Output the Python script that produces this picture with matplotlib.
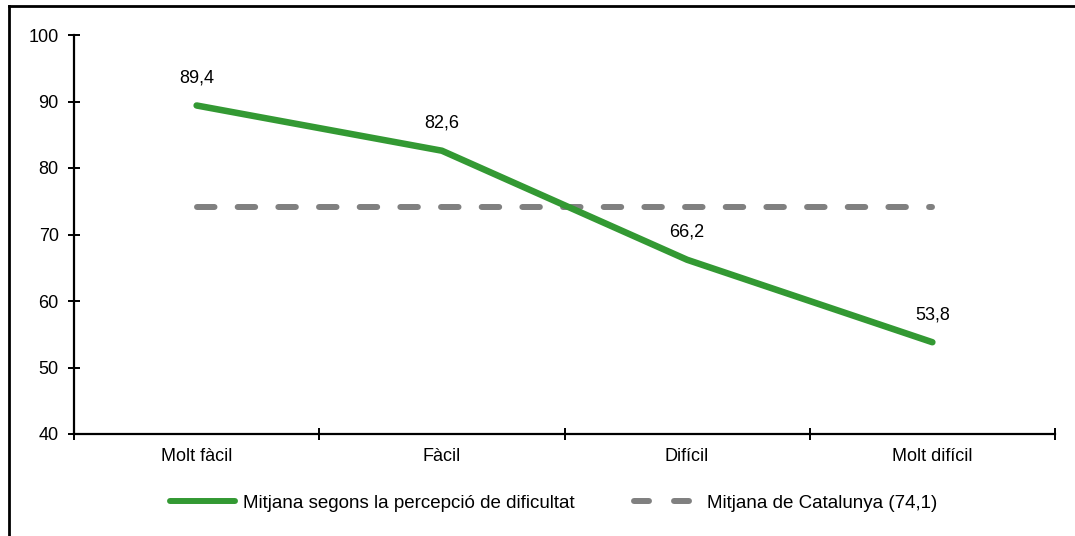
import matplotlib.pyplot as plt
from matplotlib.lines import Line2D

categories = ['Molt fàcil', 'Fàcil', 'Difícil', 'Molt difícil']
mitjana = [89.4, 82.6, 66.2, 53.8]
catalunya = 74.1
labels_mitjana = ['89,4', '82,6', '66,2', '53,8']
legend_labels = ['Mitjana segons la percepció de dificultat', 'Mitjana de Catalunya (74,1)']

GREEN = '#339933'
GREY = '#808080'
FS = 13
LFS = 13.5

plt.rcParams['font.family'] = ['Liberation Sans', 'DejaVu Sans']

W, H = 1075, 536
fig = plt.figure(figsize=(W / 100, H / 100), dpi=100)
ax = fig.add_axes([74 / W, 1 - 434 / H, (1055 - 74) / W, (434 - 35) / H])

x = list(range(len(categories)))
ax.plot(x, [catalunya] * len(x), color=GREY, lw=4.3, dashes=(2.93, 3.88),
        dash_capstyle='round', zorder=2)
ax.plot(x, mitjana, color=GREEN, lw=4.7, solid_capstyle='round',
        solid_joinstyle='round', zorder=3)

for xi, v, lab in zip(x, mitjana, labels_mitjana):
    ax.annotate(lab, (xi, v), xytext=(0, 16.5), textcoords='offset points',
                ha='center', va='baseline', fontsize=FS)

ax.set_xlim(-0.5, len(categories) - 0.5)
ax.set_ylim(40, 100)
ax.set_yticks(range(40, 101, 10))
ax.set_xticks([i - 0.5 for i in range(len(categories) + 1)])
ax.set_xticklabels([])
ax.set_xticks(x, minor=True)
ax.set_xticklabels(categories, minor=True)
ax.tick_params(axis='x', which='minor', length=0, pad=10, labelsize=FS)
ax.tick_params(axis='x', which='major', direction='inout', length=8, width=1.4)
ax.tick_params(axis='y', direction='inout', length=8, width=1.4, labelsize=FS, pad=7)

for s in ['top', 'right']:
    ax.spines[s].set_visible(False)
for s in ['left', 'bottom']:
    ax.spines[s].set_linewidth(1.6)

# legend: two pieces so each handle gets its own length
h1 = Line2D([], [], color=GREEN, lw=4.3, solid_capstyle='round')
h2 = Line2D([], [], color=GREY, lw=4.3, dashes=(2.51, 4.19), dash_capstyle='round')
leg1 = fig.legend([h1], [legend_labels[0]], loc='center left',
                  bbox_to_anchor=(170 / W, 1 - 503 / H), frameon=False, fontsize=LFS,
                  handlelength=3.47, handletextpad=0.43, borderpad=0, borderaxespad=0)
leg2 = fig.legend([h2], [legend_labels[1]], loc='center left',
                  bbox_to_anchor=(634 / W, 1 - 503 / H), frameon=False, fontsize=LFS,
                  handlelength=2.99, handletextpad=0.9, borderpad=0, borderaxespad=0)

# border around the chart (top and left visible)
fig.add_artist(Line2D([8.5 / W, 8.5 / W], [0, 1 - 5.5 / H], color='black', lw=2,
                      transform=fig.transFigure))
fig.add_artist(Line2D([8.5 / W, 1], [1 - 5.5 / H, 1 - 5.5 / H], color='black', lw=2,
                      transform=fig.transFigure))

fig.savefig('out.png', dpi=100)
